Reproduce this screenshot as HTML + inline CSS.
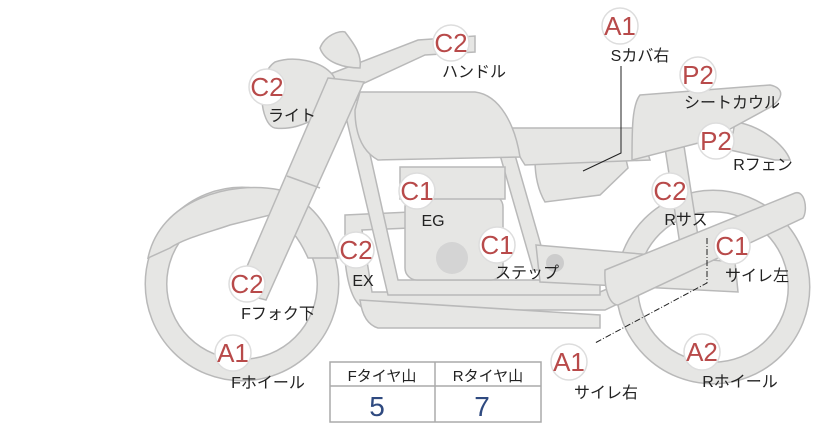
<!DOCTYPE html>
<html><head><meta charset="utf-8"><style>
html,body{margin:0;padding:0;background:#fff;}
svg{display:block;}
text{font-family:"Liberation Sans","Noto Sans CJK JP",sans-serif;}
.s{fill:#e6e6e4;stroke:#b9b9b9;stroke-width:1.5;}
.b circle{fill:#fff;stroke:#ddd;stroke-width:1.5;}
.b text{fill:#b84a4a;font-size:26px;text-anchor:middle;}
.l{font-size:16px;fill:#222;text-anchor:middle;}
</style></head><body>
<svg width="822" height="425" viewBox="0 0 822 425" xmlns="http://www.w3.org/2000/svg">
<!-- rear wheel -->
<circle cx="713" cy="287" r="86" fill="none" stroke="#b9b9b9" stroke-width="23"/>
<circle cx="713" cy="287" r="86" fill="none" stroke="#e6e6e4" stroke-width="20"/>
<!-- front wheel -->
<circle cx="242" cy="284" r="86" fill="none" stroke="#b9b9b9" stroke-width="23"/>
<circle cx="242" cy="284" r="86" fill="none" stroke="#e6e6e4" stroke-width="20"/>
<!-- front fender -->
<path class="s" d="M148,258 C160,200 230,180 280,190 C310,200 330,225 338,258 L308,258 C300,240 290,225 270,215 L230,225 C210,232 185,238 170,248 Z"/>
<!-- exhaust pipes -->
<path class="s" d="M345,215 L410,212 L410,228 L362,230 L372,292 L600,292 L700,250 L706,262 L605,310 L366,310 C355,305 348,290 345,260 Z"/>
<path class="s" d="M360,300 L600,315 L600,328 L378,328 C368,325 362,315 360,300Z" />
<!-- frame -->
<path class="s" d="M342,100 L358,100 L398,280 L600,280 L600,295 L388,295 Z"/>
<path class="s" d="M500,155 L515,155 L548,270 L533,270 Z"/>
<!-- swingarm -->
<path class="s" d="M536,245 L735,262 L738,292 L540,282 Z"/>
<!-- engine -->
<rect class="s" x="405" y="195" width="98" height="85" rx="12"/>
<rect class="s" x="400" y="167" width="105" height="32"/>
<circle cx="452" cy="258" r="16" fill="#d4d4d4"/>
<circle cx="555" cy="263" r="9" fill="#ccc"/>
<!-- rear shock -->
<path class="s" d="M665,148 L684,146 L702,262 L683,264 Z"/>
<!-- side cover -->
<path class="s" d="M535,160 L625,155 L628,168 L600,195 L545,202 C538,190 535,175 535,160Z"/>
<!-- seat -->
<path class="s" d="M512,128 L640,128 L650,160 L525,165 C515,150 512,140 512,128Z"/>
<!-- rear fender -->
<path class="s" d="M735,122 C760,125 785,145 790,160 L775,160 L730,150 Z"/>
<!-- seat cowl -->
<path class="s" d="M640,95 L770,85 C785,88 785,100 765,110 L710,140 L632,160 C632,130 632,105 640,95Z"/>
<!-- tank -->
<path class="s" d="M360,92 L475,92 C500,95 515,125 520,157 L378,160 C360,150 355,130 355,110 Z"/>
<!-- handlebar -->
<path class="s" d="M330,74 L418,40 L475,36 L475,52 L425,55 L345,92 Z"/>
<!-- mirror -->
<path class="s" d="M320,48 C325,35 340,30 345,32 C355,45 362,55 360,68 C345,68 325,63 320,48Z"/>
<!-- headlight -->
<path class="s" d="M275,62 C295,55 320,62 330,72 C340,80 340,105 322,115 C305,125 290,130 275,128 C260,125 255,75 275,62Z"/>
<!-- fork -->
<path class="s" d="M328,78 L364,82 L266,300 L236,292 Z"/>
<path d="M287,176 L320,188" stroke="#b9b9b9" stroke-width="1.5"/>
<!-- silencer -->
<path class="s" d="M605,270 L795,193 C805,190 808,210 803,218 L618,305 C610,305 604,290 605,270Z"/>
<!-- leader lines -->
<polyline points="621,66 621,153 583,171" fill="none" stroke="#222" stroke-width="1"/>
<polyline points="707,238 707,283 595,343" fill="none" stroke="#222" stroke-width="1" stroke-dasharray="6,2,1,2"/>
<!-- badges -->
<g class="b">
<circle cx="451" cy="43" r="18"/><text x="451" y="52">C2</text>
<circle cx="267" cy="87" r="18"/><text x="267" y="96">C2</text>
<circle cx="620" cy="26" r="18"/><text x="620" y="35">A1</text>
<circle cx="698" cy="75" r="18"/><text x="698" y="84">P2</text>
<circle cx="716" cy="141" r="18"/><text x="716" y="150">P2</text>
<circle cx="670" cy="191" r="18"/><text x="670" y="200">C2</text>
<circle cx="417" cy="191" r="18"/><text x="417" y="200">C1</text>
<circle cx="497" cy="245" r="18"/><text x="497" y="254">C1</text>
<circle cx="356" cy="250" r="18"/><text x="356" y="259">C2</text>
<circle cx="732" cy="246" r="18"/><text x="732" y="255">C1</text>
<circle cx="247" cy="284" r="18"/><text x="247" y="293">C2</text>
<circle cx="233" cy="353" r="18"/><text x="233" y="362">A1</text>
<circle cx="569" cy="362" r="18"/><text x="569" y="371">A1</text>
<circle cx="702" cy="352" r="18"/><text x="702" y="361">A2</text>
</g>
<g class="l">
<text x="474" y="77">ハンドル</text>
<text x="292" y="121">ライト</text>
<text x="640" y="61">Sカバ右</text>
<text x="732" y="108">シートカウル</text>
<text x="763" y="170">Rフェン</text>
<text x="686" y="225">Rサス</text>
<text x="433" y="226">EG</text>
<text x="527" y="278">ステップ</text>
<text x="363" y="286">EX</text>
<text x="757" y="281">サイレ左</text>
<text x="278" y="319">Fフォク下</text>
<text x="268" y="388">Fホイール</text>
<text x="606" y="398">サイレ右</text>
<text x="740" y="387">Rホイール</text>
</g>
<!-- table -->
<rect x="330" y="362" width="211" height="60" fill="#fff" stroke="#aaa" stroke-width="1.5"/>
<line x1="330" y1="386" x2="541" y2="386" stroke="#aaa" stroke-width="1.5"/>
<line x1="435" y1="362" x2="435" y2="422" stroke="#aaa" stroke-width="1.5"/>
<text x="382" y="381" font-size="15" text-anchor="middle" fill="#222">Fタイヤ山</text>
<text x="488" y="381" font-size="15" text-anchor="middle" fill="#222">Rタイヤ山</text>
<text x="377" y="416" font-size="28" text-anchor="middle" fill="#2f4a80">5</text>
<text x="482" y="416" font-size="28" text-anchor="middle" fill="#2f4a80">7</text>
</svg>
</body></html>
